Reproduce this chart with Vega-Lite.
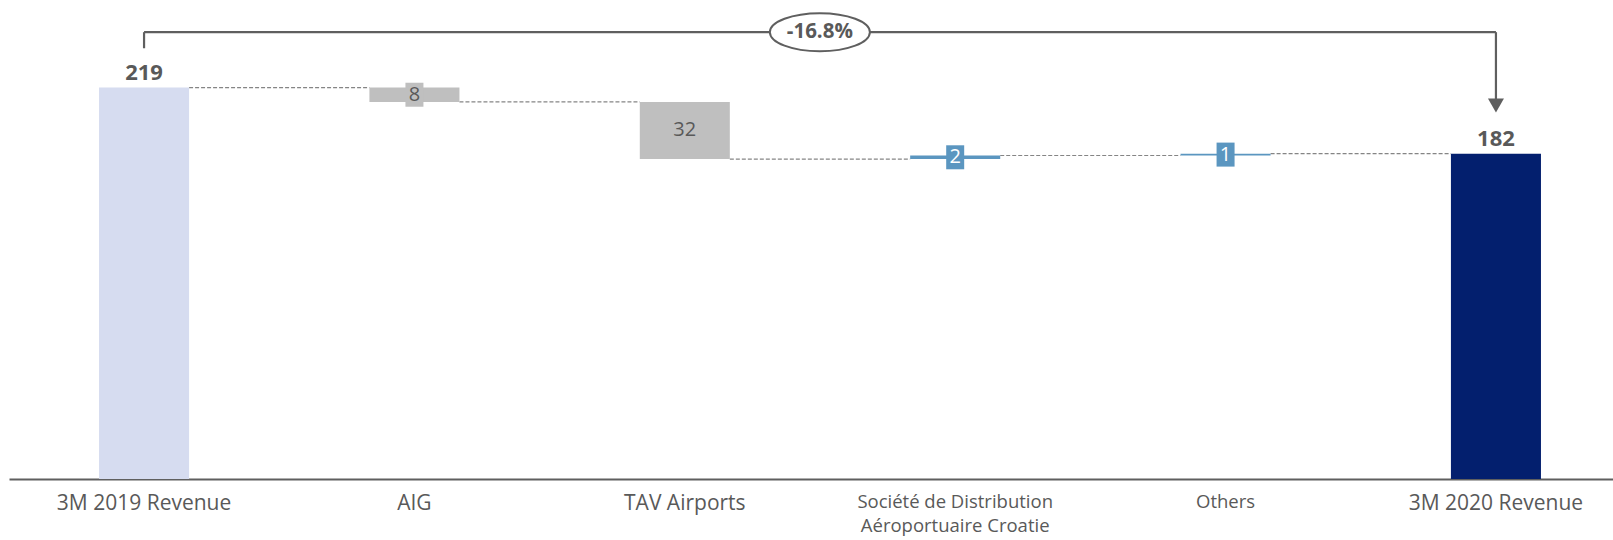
{
  "$schema": "https://vega.github.io/schema/vega-lite/v6.json",
  "autosize": "none",
  "padding": {"left": 9, "top": 0, "right": 0, "bottom": 61},
  "width": 1622,
  "height": 479,
  "background": "white",
  "config": {
    "view": {"stroke": null},
    "font": "Open Sans",
    "axisX": {
      "labelAngle": 0,
      "ticks": false,
      "grid": false,
      "domainColor": "#5f5f5f",
      "domainWidth": 2,
      "labelColor": "#595959",
      "labelFont": "Open Sans",
      "labelFontSize": {"expr": "(datum.value == 'Others' || datum.value == 'Société de Distribution Aéroportuaire Croatie') ? 18.5 : 21"},
      "labelPadding": 13,
      "labelBaseline": "top",
      "labelLineHeight": 24,
      "labelLimit": 400,
      "labelExpr": "datum.value == 'Société de Distribution Aéroportuaire Croatie' ? ['Société de Distribution', 'Aéroportuaire Croatie'] : datum.label"
    }
  },
  "datasets": {
    "bars": [
      {"cat": "3M 2019 Revenue", "start": 0, "end": 219, "kind": "total1", "label": "219"},
      {"cat": "AIG", "start": 219, "end": 211, "kind": "neg", "label": "8"},
      {"cat": "TAV Airports", "start": 211, "end": 179, "kind": "neg", "label": "32"},
      {"cat": "Société de Distribution Aéroportuaire Croatie", "start": 179, "end": 181, "kind": "pos", "label": "2"},
      {"cat": "Others", "start": 181, "end": 182, "kind": "pos", "label": "1"},
      {"cat": "3M 2020 Revenue", "start": 0, "end": 182, "kind": "total2", "label": "182"}
    ],
    "links": [
      {"from": "3M 2019 Revenue", "to": "AIG", "level": 219},
      {"from": "AIG", "to": "TAV Airports", "level": 211},
      {"from": "TAV Airports", "to": "Société de Distribution Aéroportuaire Croatie", "level": 179},
      {"from": "Société de Distribution Aéroportuaire Croatie", "to": "Others", "level": 181},
      {"from": "Others", "to": "3M 2020 Revenue", "level": 182}
    ],
    "bracket": [
      {"from": "3M 2019 Revenue", "to": "3M 2020 Revenue", "top": 250, "leftEnd": 241, "rightEnd": 212, "arrow": 209, "change": "-16.8%", "mid": "TAV Airports"}
    ]
  },
  "encoding": {
    "x": {
      "field": "cat",
      "type": "nominal",
      "sort": null,
      "title": null,
      "scale": {
        "domain": ["3M 2019 Revenue", "AIG", "TAV Airports", "Société de Distribution Aéroportuaire Croatie", "Others", "3M 2020 Revenue"],
        "paddingInner": 0.667,
        "paddingOuter": 0.333
      }
    }
  },
  "layer": [
    {
      "data": {"name": "links"},
      "mark": {"type": "rule", "color": "#858585", "strokeWidth": 1.2, "strokeDash": [4, 2]},
      "encoding": {
        "x": {"field": "from", "type": "nominal", "bandPosition": 1, "title": null},
        "x2": {"field": "to", "bandPosition": 0},
        "y": {"field": "level", "type": "quantitative", "scale": {"domain": [0, 268], "nice": false, "zero": true}, "axis": null}
      }
    },
    {
      "data": {"name": "bars"},
      "mark": {"type": "bar"},
      "encoding": {
        "y": {"field": "start", "type": "quantitative"},
        "y2": {"field": "end"},
        "color": {
          "field": "kind",
          "type": "nominal",
          "scale": {"domain": ["total1", "neg", "pos", "total2"], "range": ["#D6DCF0", "#BFBFBF", "#5B96C0", "#031F6E"]},
          "legend": null
        }
      }
    },
    {
      "data": {"name": "bars"},
      "transform": [
        {"filter": "datum.kind == 'neg' || datum.kind == 'pos'"},
        {"calculate": "(datum.start + datum.end) / 2", "as": "mid"}
      ],
      "layer": [
        {
          "transform": [{"filter": "datum.label != '32'"}],
          "mark": {"type": "point", "filled": true, "opacity": 1, "shape": "M-0.75,-1L0.75,-1L0.75,1L-0.75,1Z", "size": 576},
          "encoding": {
            "y": {"field": "mid", "type": "quantitative"},
            "color": {"field": "kind", "type": "nominal"}
          }
        },
        {
          "mark": {"type": "text", "font": "Open Sans", "fontSize": 20, "baseline": "middle", "align": "center"},
          "encoding": {
            "y": {"field": "mid", "type": "quantitative"},
            "text": {"field": "label"},
            "color": {"condition": {"test": "datum.kind == 'pos'", "value": "white"}, "value": "#595959"}
          }
        }
      ]
    },
    {
      "data": {"name": "bars"},
      "transform": [{"filter": "datum.kind == 'total1' || datum.kind == 'total2'"}],
      "mark": {"type": "text", "font": "Open Sans", "fontSize": 22, "fontWeight": "bold", "baseline": "alphabetic", "align": "center", "dy": -8, "color": "#595959"},
      "encoding": {
        "y": {"field": "end", "type": "quantitative"},
        "text": {"field": "label"}
      }
    },
    {
      "data": {"name": "bracket"},
      "layer": [
        {
          "mark": {"type": "rule", "color": "#5f5f5f", "strokeWidth": 2.2},
          "encoding": {
            "x": {"field": "from", "type": "nominal", "title": null},
            "x2": {"field": "to"},
            "y": {"field": "top", "type": "quantitative"}
          }
        },
        {
          "mark": {"type": "rule", "color": "#5f5f5f", "strokeWidth": 2.2},
          "encoding": {
            "x": {"field": "from", "type": "nominal", "title": null},
            "y": {"field": "top", "type": "quantitative"},
            "y2": {"field": "leftEnd"}
          }
        },
        {
          "mark": {"type": "rule", "color": "#5f5f5f", "strokeWidth": 2.2},
          "encoding": {
            "x": {"field": "to", "type": "nominal", "title": null},
            "y": {"field": "top", "type": "quantitative"},
            "y2": {"field": "rightEnd"}
          }
        },
        {
          "mark": {"type": "point", "filled": true, "opacity": 1, "color": "#5f5f5f", "shape": "M-1,-0.875L1,-0.875L0,0.875Z", "size": 256},
          "encoding": {
            "x": {"field": "to", "type": "nominal", "title": null},
            "y": {"field": "arrow", "type": "quantitative"}
          }
        },
        {
          "mark": {"type": "point", "filled": false, "opacity": 1, "fill": "white", "fillOpacity": 1, "stroke": "#5f5f5f", "strokeWidth": 2, "shape": "M-1,0A1,0.38,0,1,0,1,0A1,0.38,0,1,0,-1,0Z", "size": 10000},
          "encoding": {
            "x": {"field": "mid", "type": "nominal", "bandPosition": 2, "title": null},
            "y": {"field": "top", "type": "quantitative"}
          }
        },
        {
          "mark": {"type": "text", "font": "Open Sans", "fontSize": 20.5, "fontWeight": "bold", "baseline": "middle", "align": "center", "color": "#595959"},
          "encoding": {
            "x": {"field": "mid", "type": "nominal", "bandPosition": 2, "title": null},
            "y": {"field": "top", "type": "quantitative"},
            "text": {"field": "change"}
          }
        }
      ]
    }
  ]
}
